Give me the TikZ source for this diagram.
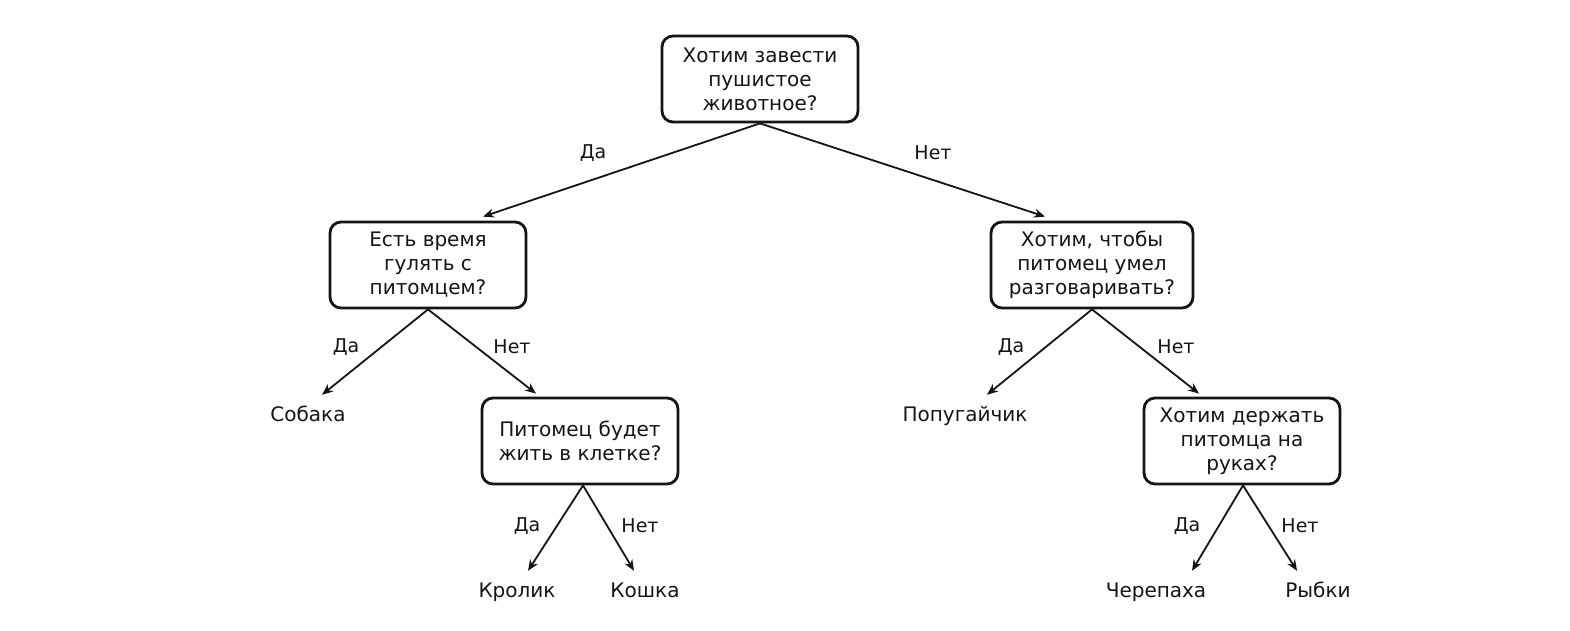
\documentclass[tikz,border=0pt]{standalone}
\usepackage{fontspec}
\setmainfont{DejaVu Sans}
\usetikzlibrary{positioning,arrows.meta,calc}
\definecolor{inkc}{RGB}{20,20,20}

\begin{document}
\begin{tikzpicture}[x=1pt, y=-1pt,
  qbox/.style={draw=inkc, line width=2.8pt, rounded corners=11pt, align=center, text=inkc,
    font=\fontsize{20}{24}\selectfont, minimum width=196pt, minimum height=86pt, inner sep=4pt},
  leaf/.style={text=inkc, font=\fontsize{20}{24}\selectfont, inner sep=2pt, text height=15pt, text depth=5pt},
  lbl/.style={text=inkc, font=\fontsize{19}{22}\selectfont, inner sep=1pt},
  edge/.style={draw=inkc, line width=1.8pt, -{Stealth[length=11pt,width=9pt]}},
]
\useasboundingbox (0,0) rectangle (1570,631);

% ---- questions ----
\node[qbox] (root) at (760,79) {Хотим завести\\пушистое\\животное?};
\node[qbox] (walk) at (428,265) {Есть время\\гулять с\\питомцем?};
\node[qbox, minimum width=202pt] (talk) at (1092,265) {Хотим, чтобы\\питомец умел\\разговаривать?};
\node[qbox] (cage) at (580,441) {Питомец будет\\жить в клетке?};
\node[qbox] (hold) at (1242,441) {Хотим держать\\питомца на\\руках?};

% ---- answers ----
\node[leaf] (dog) at (308,416) {Собака};
\node[leaf] (parrot) at (965,416) {Попугайчик};
\node[leaf] (rabbit) at (517,592) {Кролик};
\node[leaf] (cat) at (645,592) {Кошка};
\node[leaf] (turtle) at (1156,592) {Черепаха};
\node[leaf] (fish) at (1318,592) {Рыбки};

% 1 root
\draw[edge] (root.south) -- ([xshift=55pt,yshift=4pt]walk.north);
\draw[edge] (root.south) -- ([xshift=-47pt,yshift=4pt]talk.north);
\node[lbl] (r1) at (593,153) {Да};
\node[lbl] (r2) at (933,153) {Нет};

% 2 walk
\draw[edge] (walk.south) -- ([xshift=14pt,yshift=9pt]dog.north);
\draw[edge] (walk.south) -- ([xshift=-44pt,yshift=3pt]cage.north);
\node[lbl] (w1) at (346,347) {Да};
\node[lbl] (w2) at (512,347) {Нет};

% 3 talk
\draw[edge] (talk.south) -- ([xshift=22pt,yshift=9pt]parrot.north);
\draw[edge] (talk.south) -- ([xshift=-43pt,yshift=3pt]hold.north);
\node[lbl] (t1) at (1011,347) {Да};
\node[lbl] (t2) at (1176,347) {Нет};

% 4 cage
\draw[edge] ([xshift=3pt]cage.south) -- ([xshift=11pt,yshift=9pt]rabbit.north);
\draw[edge] ([xshift=3pt]cage.south) -- ([xshift=-11pt,yshift=9pt]cat.north);
\node[lbl] (c1) at (527,526) {Да};
\node[lbl] (c2) at (640,526) {Нет};

% 5 hold
\draw[edge] ([xshift=1pt]hold.south) -- ([xshift=36pt,yshift=9pt]turtle.north);
\draw[edge] ([xshift=1pt]hold.south) -- ([xshift=-21pt,yshift=9pt]fish.north);
\node[lbl] (h1) at (1187,526) {Да};
\node[lbl] (h2) at (1300,526) {Нет};

\end{tikzpicture}
\end{document}
